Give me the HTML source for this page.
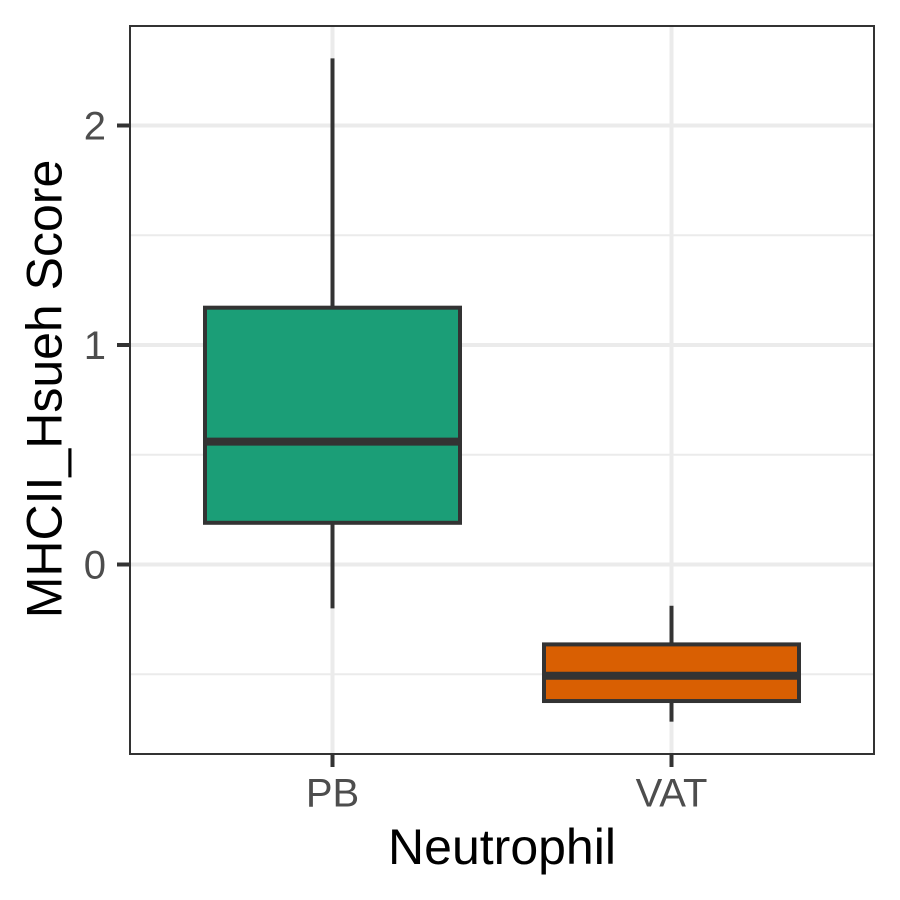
<!DOCTYPE html>
<html>
<head>
<meta charset="utf-8">
<style>
html,body{margin:0;padding:0;background:#fff;}
svg{display:block;font-family:"Liberation Sans",sans-serif;}
</style>
</head>
<body>
<svg id="chart" width="900" height="900" viewBox="0 0 900 900" xmlns="http://www.w3.org/2000/svg"></svg>
<script>
var categories = ['PB', 'VAT'];
var boxColors = ['#1B9E77', '#D95F02'];
var whiskerLow = [-0.2, -0.716];
var q1 = [0.19, -0.622];
var median = [0.56, -0.507];
var q3 = [1.17, -0.364];
var whiskerHigh = [2.306, -0.188];
var yMajorTicks = [0, 1, 2];
var yMinorTicks = [-0.5, 0.5, 1.5];
var xAxisLabel = 'Neutrophil';
var yAxisLabel = 'MHCII_Hsueh Score';

var svg = document.getElementById('chart');
var NS = 'http://www.w3.org/2000/svg';
var plot = {l: 130, r: 874, t: 26, b: 754};

function xScale(i) { return 332.5 + (671.5 - 332.5) * i; }
function yScale(v) { return 564.5 + (125.5 - 564.5) * v / 2; }

function add(tag, attrs, parent) {
  var el = document.createElementNS(NS, tag);
  for (var k in attrs) { el.setAttribute(k, attrs[k]); }
  (parent || svg).appendChild(el);
  return el;
}

var bg = add('rect', {x: plot.l, y: plot.t, width: plot.r - plot.l, height: plot.b - plot.t, fill: '#fff'});



yMinorTicks.forEach(function (v) {
  var g = add('line', {x1: plot.l, x2: plot.r, y1: yScale(v), y2: yScale(v), stroke: '#ebebeb', 'stroke-width': 2});
  
  
});
yMajorTicks.forEach(function (v) {
  var g = add('line', {x1: plot.l, x2: plot.r, y1: yScale(v), y2: yScale(v), stroke: '#ebebeb', 'stroke-width': 4});
  
  
});
categories.forEach(function (c, i) {
  var g = add('line', {x1: xScale(i), x2: xScale(i), y1: plot.t, y2: plot.b, stroke: '#ebebeb', 'stroke-width': 4});
  
  
});

var boxHalfWidth = 127.5;
categories.forEach(function (c, i) {
  var x = xScale(i);
  var up = add('line', {x1: x, x2: x, y1: yScale(whiskerHigh[i]), y2: yScale(q3[i]), stroke: '#333', 'stroke-width': 4});
  
  
  var low = add('line', {x1: x, x2: x, y1: yScale(q1[i]), y2: yScale(whiskerLow[i]), stroke: '#333', 'stroke-width': 4});
  
  
  var box = add('rect', {x: x - boxHalfWidth, y: yScale(q3[i]), width: boxHalfWidth * 2, height: yScale(q1[i]) - yScale(q3[i]), fill: boxColors[i], stroke: '#333', 'stroke-width': 4});
  
  
  var med = add('line', {x1: x - boxHalfWidth, x2: x + boxHalfWidth, y1: yScale(median[i]), y2: yScale(median[i]), stroke: '#333', 'stroke-width': 8});
  
  
});

var border = add('rect', {x: plot.l, y: plot.t, width: plot.r - plot.l, height: plot.b - plot.t, fill: 'none', stroke: '#333', 'stroke-width': 2});



yMajorTicks.forEach(function (v) {
  var t = add('line', {x1: 117, x2: plot.l, y1: yScale(v), y2: yScale(v), stroke: '#333', 'stroke-width': 4});
  
  
  var l = add('text', {x: 106, y: yScale(v) + 14, 'text-anchor': 'end', 'font-size': 40, fill: '#4d4d4d'});
  l.textContent = String(v);
  
  
});
categories.forEach(function (c, i) {
  var t = add('line', {x1: xScale(i), x2: xScale(i), y1: plot.b, y2: 767, stroke: '#333', 'stroke-width': 4});
  
  
  var l = add('text', {x: xScale(i), y: 806.5, 'text-anchor': 'middle', 'font-size': 40, fill: '#4d4d4d'});
  l.textContent = c;
  
  
});

var xt = add('text', {x: 502, y: 864, 'text-anchor': 'middle', 'font-size': 50, fill: '#000'});
xt.textContent = xAxisLabel;



var yt = add('text', {x: 0, y: 0, transform: 'translate(61.5,389) rotate(-90)', 'text-anchor': 'middle', 'font-size': 50, fill: '#000'});
yt.textContent = yAxisLabel;


</script>
</body>
</html>
